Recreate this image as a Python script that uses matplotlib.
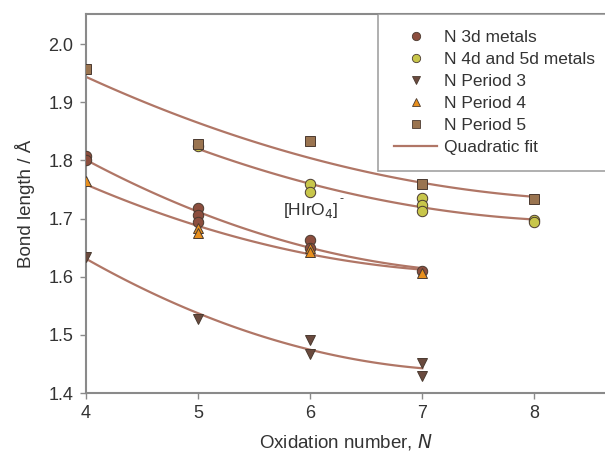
import numpy as np
import matplotlib
matplotlib.use("Agg")
import matplotlib.pyplot as plt
from matplotlib.lines import Line2D

plt.rcParams['font.family'] = ['Liberation Sans', 'DejaVu Sans']

# data
x_3d = [4, 4, 5, 5, 5, 6, 6, 7]
y_3d = [1.807, 1.800, 1.719, 1.707, 1.695, 1.664, 1.650, 1.610]

x_45d = [5, 6, 6, 7, 7, 7, 8, 8]
y_45d = [1.825, 1.760, 1.745, 1.736, 1.724, 1.713, 1.697, 1.695]

x_p3 = [4, 5, 6, 6, 7, 7]
y_p3 = [1.634, 1.528, 1.491, 1.467, 1.452, 1.430]

x_p4 = [4, 5, 5, 6, 6, 7]
y_p4 = [1.764, 1.683, 1.676, 1.650, 1.643, 1.607]

x_p5 = [4, 5, 6, 7, 8]
y_p5 = [1.957, 1.829, 1.833, 1.759, 1.734]

series = [
    ("N 3d metals", x_3d, y_3d, 'o', '#8c4e3e'),
    ("N 4d and 5d metals", x_45d, y_45d, 'o', '#c8c64a'),
    ("N Period 3", x_p3, y_p3, 'v', '#6a4a3e'),
    ("N Period 4", x_p4, y_p4, '^', '#e8901e'),
    ("N Period 5", x_p5, y_p5, 's', '#9a7450'),
]
fit_color = '#b07666'
axis_color = '#8a8a8a'
text_color = '#333333'

fig = plt.figure(figsize=(6.05, 4.62), dpi=100)
ax = fig.add_axes([86 / 605, 69 / 462, 1 - 86 / 605, (393 - 14) / 462])

for name, xs, ys, m, c in series:
    p = np.polyfit(xs, ys, 2)
    xx = np.linspace(min(xs), max(xs), 100)
    ax.plot(xx, np.polyval(p, xx), color=fit_color, lw=1.6, zorder=2)

handles = []
for name, xs, ys, m, c in series:
    ax.plot(xs, ys, linestyle='none', marker=m, ms=7.5, mfc=c,
            mec='#4a3a30', mew=0.7, zorder=3)
    handles.append(Line2D([], [], linestyle='none', marker=m, ms=6, mfc=c,
                          mec='#4a3a30', mew=0.6, label=name))
handles.append(Line2D([], [], color=fit_color, lw=1.6, label='Quadratic fit'))

lab = ax.text(5.76, 1.714, '[HIrO$_4$]', fontsize=12.5, color=text_color,
              va='center', ha='left')
ax.annotate('-', xy=(1, 1), xycoords=lab, xytext=(0.5, 6),
            textcoords='offset points', fontsize=9, color=text_color,
            ha='left', va='top')

ax.set_xlim(4, 8.63)
ax.set_ylim(1.4, 2.052)
ax.set_xticks([4, 5, 6, 7, 8])
ax.set_yticks([1.4, 1.5, 1.6, 1.7, 1.8, 1.9, 2.0])
ax.set_yticklabels(['1.4', '1.5', '1.6', '1.7', '1.8', '1.9', '2.0'])

for s in ['left', 'bottom', 'top']:
    ax.spines[s].set_color(axis_color)
    ax.spines[s].set_linewidth(1.5)
ax.spines['right'].set_visible(False)
ax.tick_params(direction='out', length=4, width=1, color=axis_color,
               labelsize=13, labelcolor=text_color, pad=5)

ax.set_ylabel('Bond length / Å', fontsize=13.5, color=text_color, labelpad=10)
ax.set_xlabel('Oxidation number, $N$', fontsize=13.5, color=text_color, labelpad=7)

leg = ax.legend(handles=handles, loc='upper right', borderaxespad=0,
                fancybox=False, fontsize=12.5, frameon=True, handlelength=2.5,
                labelspacing=0.4, borderpad=0.9, handletextpad=0.35,
                bbox_to_anchor=(1.01, 1.0))
leg.get_frame().set_edgecolor(axis_color)
leg.get_frame().set_linewidth(1.2)
for t in leg.get_texts():
    t.set_color(text_color)

fig.savefig('out.png', dpi=100)
